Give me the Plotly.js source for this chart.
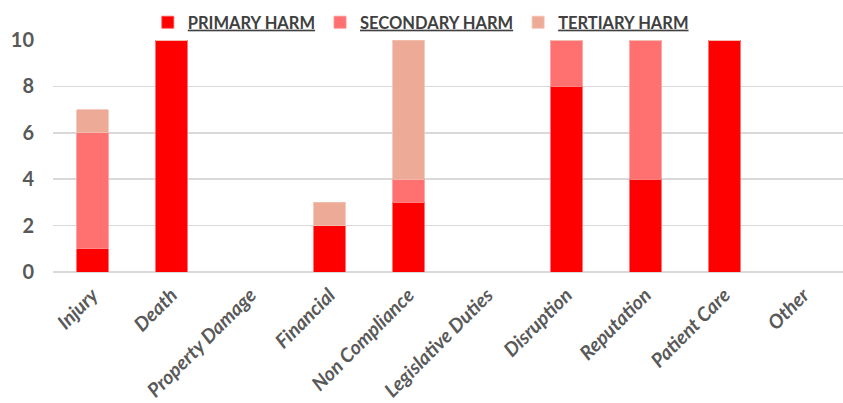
<!DOCTYPE html>
<html><head><meta charset="utf-8">
<script src="https://cdn.plot.ly/plotly-3.0.1.min.js"></script>
<style>html,body{margin:0;padding:0;background:#fff;}#chart{width:843px;height:403px;}</style>
</head><body><div id="chart"></div>
<script>
const categories = ["Injury","Death","Property Damage","Financial","Non Compliance","Legislative Duties","Disruption","Reputation","Patient Care","Other"];
const primaryHarm   = [1,10,0,2,3,0,8,4,10,0];
const secondaryHarm = [5,0,0,0,1,0,2,6,0,0];
const tertiaryHarm  = [1,0,0,1,6,0,0,0,0,0];
const seriesNames = ["PRIMARY HARM","SECONDARY HARM","TERTIARY HARM"];
const yTicks = [0,2,4,6,8,10];

const colors = ["#FF0000","#FF7171","#EDAB97"];
const lines = ["#FF5050","#FF9090","#F2C0B0"];
const vals = [primaryHarm, secondaryHarm, tertiaryHarm];
const data = vals.map((v,i)=>({
  type:'bar', x:categories, y:v, name:'<u>'+seriesNames[i]+'</u>',
  marker:{color:colors[i], line:{color:lines[i], width:0.8}},
  hoverinfo:'x+y'
}));
const font = "Lato, 'Open Sans', sans-serif";
const layout = {
  width:843, height:403,
  margin:{l:53, r:0, t:40, b:131, pad:0},
  barmode:'stack', bargap:0.6,
  paper_bgcolor:'#fff', plot_bgcolor:'#fff',
  font:{family:font, color:'#595959'},
  showlegend:true,
  legend:{orientation:'h', traceorder:'normal', x:0.12, xanchor:'left', y:1.0, yanchor:'bottom',
    font:{family:font, size:16.5, color:'#404040', weight:'bold'},
    itemwidth:30, tracegroupgap:0, itemclick:false},
  xaxis:{tickangle:-45, tickfont:{family:font, size:19.5, color:'#595959', style:'italic', weight:'bold'},
    showgrid:false, zeroline:false, showline:false, ticks:'', ticklen:0, automargin:false, ticklabelstandoff:7},
  yaxis:{range:[0,10], tickvals:yTicks, ticktext:yTicks.map(String),
    tickfont:{family:font, size:20, color:'#595959', weight:'bold'},
    showgrid:true, gridcolor:'#D9D9D9', gridwidth:1.5, zeroline:true, zerolinecolor:'#D9D9D9', zerolinewidth:1.5,
    showline:false, ticks:'', automargin:false, ticklabelstandoff:18}
};
Plotly.newPlot('chart', data, layout, {displayModeBar:false, staticPlot:true});
</script></body></html>
